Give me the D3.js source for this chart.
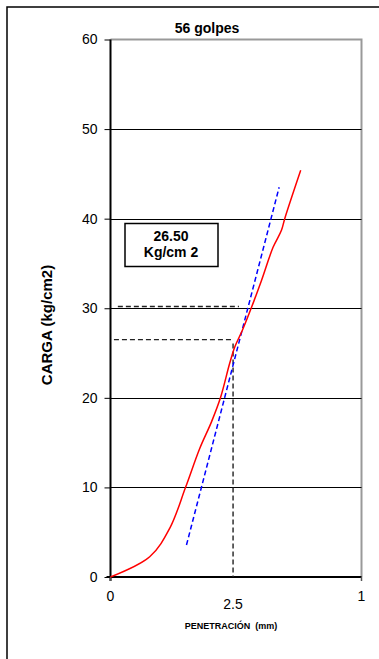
<!DOCTYPE html>
<html>
<head>
<meta charset="utf-8">
<script src="https://cdn.jsdelivr.net/npm/d3@7"></script>
<style>
  body { margin: 0; background: #fff; }
  svg { display: block; font-family: "Liberation Sans", Arial, sans-serif; }
</style>
</head>
<body>
<svg id="chart" width="379" height="659"></svg>
<script>
// curva carga - penetracion (56 golpes)
const penetracion = [0, 0.80, 1.21, 1.535, 1.82, 2.06, 2.243, 2.43, 2.535, 2.69, 2.875, 3.08, 3.316, 3.487, 3.554, 3.88];
const carga       = [0, 2.26, 5.46, 10.07, 14.35, 17.32, 20.0, 23.83, 25.68, 27.54, 30.08, 33.1, 36.8, 38.7, 40.0, 45.4];

// tangente (correccion)
const tangenteX = [1.55, 3.44];
const tangenteY = [3.57, 43.5];

// lineas de lectura
const lecturaX = 2.5;
const lecturaCarga = 26.5;
const lecturaCarga2 = 30.2;
const lecturaInicio = [0.07, 0.15];
const lecturaFin2 = 2.62;

const yTicks = [0, 10, 20, 30, 40, 50, 60];
const xTickValues = [0, 2.5, 5.12];
const xTickLabels = ["0", "2.5", "1"];

const titulo = "56 golpes";
const resultado = ["26.50", "Kg/cm 2"];

const svg = d3.select('#chart');
const mLeft = 110.5, mRight = 361.5, mTop = 39.5, mBottom = 577;

const x = d3.scaleLinear().domain([0, 5.12]).range([mLeft, mRight]);
const y = d3.scaleLinear().domain([0, 60]).range([mBottom, mTop]);

// marco exterior
svg.append('rect')
  .attr('x', 7).attr('y', 7).attr('width', 420).attr('height', 700)
  .attr('fill', 'none').attr('stroke', '#000').attr('stroke-width', 1.5);

// borde del area de trazado
svg.append('path')
  .attr('d', `M${mLeft},${mTop}H${mRight}V${mBottom}`)
  .attr('fill', 'none').attr('stroke', '#999').attr('stroke-width', 2);

// grid
svg.append('g').selectAll('line')
  .data(yTicks.filter(d => d > 0 && d < 60))
  .enter().append('line')
  .attr('x1', mLeft).attr('x2', mRight)
  .attr('y1', d => Math.round(y(d)) + 0.5).attr('y2', d => Math.round(y(d)) + 0.5)
  .attr('stroke', '#000').attr('stroke-width', 1.2);

// eje y
const yAxis = svg.append('g')
  .attr('transform', 'translate(' + mLeft + ',0)')
  .call(d3.axisLeft(y).tickValues(yTicks).tickSize(6).tickPadding(7));
yAxis.select('.domain').remove();
yAxis.selectAll('line').attr('stroke', '#000');
yAxis.selectAll('text').attr('font-size', 14).attr('fill', '#000')
  .attr('font-family', '"Liberation Sans", Arial, sans-serif');
svg.append('line')
  .attr('x1', mLeft).attr('x2', mLeft).attr('y1', mTop).attr('y2', mBottom + 4)
  .attr('stroke', '#000').attr('stroke-width', 2);

// eje x
svg.append('line')
  .attr('x1', mLeft - 4).attr('x2', mRight).attr('y1', mBottom).attr('y2', mBottom)
  .attr('stroke', '#000').attr('stroke-width', 2);
svg.append('g').selectAll('line')
  .data([xTickValues[0], xTickValues[2]])
  .enter().append('line')
  .attr('x1', d => x(d)).attr('x2', d => x(d))
  .attr('y1', mBottom).attr('y2', mBottom + 4)
  .attr('stroke', '#555').attr('stroke-width', 1.5);
svg.append('g').selectAll('text')
  .data(xTickValues)
  .enter().append('text')
  .attr('x', d => x(d))
  .attr('y', (d, i) => i === 1 ? 609 : 601)
  .attr('text-anchor', 'middle')
  .attr('font-size', 14)
  .text((d, i) => xTickLabels[i]);

// lineas de lectura punteadas
const dashed = svg.append('g')
  .attr('fill', 'none').attr('stroke', '#222').attr('stroke-width', 1.4)
  .attr('stroke-dasharray', '5,3');
dashed.append('line')
  .attr('x1', x(lecturaInicio[1])).attr('x2', x(lecturaFin2))
  .attr('y1', y(lecturaCarga2)).attr('y2', y(lecturaCarga2));
dashed.append('line')
  .attr('x1', x(lecturaInicio[0])).attr('x2', x(lecturaX))
  .attr('y1', y(lecturaCarga)).attr('y2', y(lecturaCarga));
dashed.append('line')
  .attr('x1', x(lecturaX)).attr('x2', x(lecturaX))
  .attr('y1', y(lecturaCarga) + 4).attr('y2', mBottom);

// tangente azul
svg.append('line')
  .attr('x1', x(tangenteX[0])).attr('y1', y(tangenteY[0]))
  .attr('x2', x(tangenteX[1])).attr('y2', y(tangenteY[1]))
  .attr('stroke', '#0000ff').attr('stroke-width', 1.5)
  .attr('stroke-dasharray', '5,3');

// curva roja
const line = d3.line()
  .x((d, i) => x(penetracion[i]))
  .y(d => y(d))
  .curve(d3.curveCatmullRom.alpha(0.5));
svg.append('path')
  .attr('d', line(carga))
  .attr('fill', 'none').attr('stroke', '#ff0000').attr('stroke-width', 1.5);

// recuadro resultado
svg.append('rect')
  .attr('x', 125).attr('y', 223.5).attr('width', 93).attr('height', 43)
  .attr('fill', '#fff').attr('stroke', '#000').attr('stroke-width', 1.5);
svg.append('g').selectAll('text')
  .data(resultado)
  .enter().append('text')
  .attr('x', 171)
  .attr('y', (d, i) => 241 + i * 16)
  .attr('text-anchor', 'middle')
  .attr('font-size', 14).attr('font-weight', 'bold')
  .text(d => d);

// titulos
svg.append('text')
  .attr('x', 207).attr('y', 33)
  .attr('text-anchor', 'middle')
  .attr('font-size', 14).attr('font-weight', 'bold')
  .text(titulo);

svg.append('text')
  .attr('transform', 'translate(52,325) rotate(-90)')
  .attr('text-anchor', 'middle')
  .attr('font-size', 15).attr('font-weight', 'bold')
  .text('CARGA (kg/cm2)');

svg.append('text')
  .attr('x', 231).attr('y', 629)
  .attr('text-anchor', 'middle')
  .attr('font-size', 9).attr('font-weight', 'bold')
  .attr('xml:space', 'preserve')
  .text('PENETRACIÓN  (mm)');
</script>
</body>
</html>
